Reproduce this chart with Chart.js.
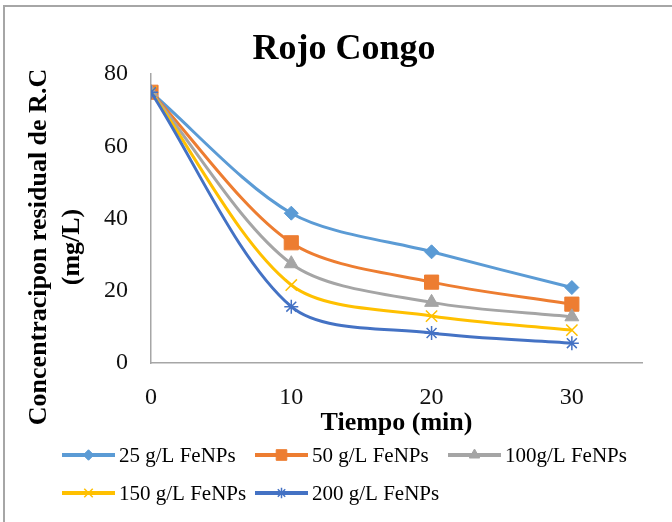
<!DOCTYPE html>
<html>
<head>
<meta charset="utf-8">
<script src="https://cdn.jsdelivr.net/npm/chart.js@4/dist/chart.umd.min.js"></script>
<style>
	html, body { margin: 0; padding: 0; background: #fff; }
	#wrap { width: 672px; height: 522px; }
</style>
</head>
<body>
<div id="wrap"><canvas id="congoChart" width="672" height="522"></canvas></div>
<script>
// Data

const times = [0, 10, 20, 30];
const seriesLabels = ["25 g/L FeNPs", "50 g/L FeNPs", "100g/L FeNPs", "150 g/L FeNPs", "200 g/L FeNPs"];
const conc25 = [75, 41.5, 30.8, 20.9];
const conc50 = [75, 33.3, 22.4, 16.3];
const conc100 = [75, 27.5, 16.8, 12.8];
const conc150 = [75, 21.6, 13.0, 9.1];
const conc200 = [75, 15.6, 8.3, 5.5];
const yTicks = [0, 20, 40, 60, 80];
const xTicks = [0, 10, 20, 30];

const seriesValues = [conc25, conc50, conc100, conc150, conc200];
const colors = ["#5B9BD5", "#ED7D31", "#A5A5A5", "#FFC000", "#4472C4"];
const markers = ["rectRot", "rect", "triangle", "crossRot", "star"];
const markerSizes = [7, 10, 8, 8, 7];

const serif = "'Liberation Serif', 'Times New Roman', serif";

// build datasets
let datasets = [];
for (let i = 0; i < seriesValues.length; i++) {
	let pts = [];
	for (let j = 0; j < times.length; j++) {
		pts.push({ x: times[j], y: seriesValues[i][j] });
	}
	let isStroke = markers[i] === "crossRot" || markers[i] === "star";
	datasets.push({
		label: seriesLabels[i],
		data: pts,
		borderColor: colors[i],
		backgroundColor: colors[i],
		borderWidth: 3,
		tension: 0.3,
		pointStyle: markers[i],
		pointRadius: markerSizes[i],
		pointHoverRadius: markerSizes[i],
		pointBackgroundColor: colors[i],
		pointBorderColor: colors[i],
		pointBorderWidth: isStroke ? 1.5 : 1,
		order: seriesValues.length - i,
	});
}

// background and the frame line at top and left
const framePlugin = {
	id: "frame",
	beforeDraw(chart) {
		const ctx = chart.ctx;
		ctx.save();
		ctx.fillStyle = "#fff";
		ctx.fillRect(0, 0, chart.width, chart.height);
		ctx.strokeStyle = "#a6a6a6";
		ctx.lineWidth = 2;
		ctx.beginPath();
		ctx.moveTo(4, chart.height);
		ctx.lineTo(4, 6);
		ctx.lineTo(chart.width, 6);
		ctx.stroke();
		ctx.restore();
	},
};

// y axis title (two lines) and Excel style legend
const extrasPlugin = {
	id: "extras",
	afterDraw(chart) {
		const ctx = chart.ctx;
		ctx.save();

		// y title
		ctx.fillStyle = "#000";
		ctx.font = "bold 26px " + serif;
		ctx.textAlign = "center";
		ctx.textBaseline = "middle";
		let yLines = ["Concentracipon residual de R.C", "(mg/L)"];
		for (let i = 0; i < yLines.length; i++) {
			ctx.save();
			ctx.translate(39 + i * 33, 247);
			ctx.rotate(-Math.PI / 2);
			ctx.fillText(yLines[i], 0, 0);
			ctx.restore();
		}

		// legend
		ctx.font = "21px " + serif;
		ctx.textAlign = "left";
		for (let i = 0; i < chart.data.datasets.length; i++) {
			let ds = chart.data.datasets[i];
			let col = i % 3;
			let row = Math.floor(i / 3);
			let x0 = 62 + col * 193;
			let y0 = 455 + row * 38;
			ctx.strokeStyle = ds.borderColor;
			ctx.lineWidth = 4;
			ctx.beginPath();
			ctx.moveTo(x0, y0);
			ctx.lineTo(x0 + 53, y0);
			ctx.stroke();
			ctx.fillStyle = ds.backgroundColor;
			ctx.strokeStyle = ds.borderColor;
			ctx.lineWidth = ds.pointBorderWidth;
			Chart.helpers.drawPoint(ctx, {
				pointStyle: ds.pointStyle,
				radius: ds.pointRadius * 0.75,
				borderWidth: ds.pointBorderWidth,
				rotation: 0,
			}, x0 + 26.5, y0);
			ctx.fillStyle = "#000";
			ctx.fillText(ds.label, x0 + 57, y0 + 1);
		}
		ctx.restore();
	},
};

new Chart(document.getElementById("congoChart"), {
	type: "line",
	data: { datasets: datasets },
	options: {
		responsive: false,
		animation: false,
		devicePixelRatio: 1,
		layout: { padding: { left: 46, right: 30, top: 0, bottom: 83 } },
		scales: {
			x: {
				type: "linear",
				min: 0,
				max: 35,
				afterBuildTicks(scale) {
					scale.ticks = xTicks.map((v) => ({ value: v }));
				},
				afterFit(scale) {
					scale.height = 76;
				},
				grid: { display: false, drawTicks: false },
				border: { color: "#a6a6a6", width: 1.5 },
				ticks: { font: { family: serif, size: 24 }, color: "#111", padding: 20, maxRotation: 0 },
				title: {
					display: true,
					text: "Tiempo (min)",
					color: "#000",
					font: { family: serif, size: 26, weight: "bold" },
					padding: { top: 0, bottom: 0 },
				},
			},
			y: {
				min: 0,
				max: 80,
				afterBuildTicks(scale) {
					scale.ticks = yTicks.map((v) => ({ value: v }));
				},
				afterFit(scale) {
					scale.width = 105;
				},
				grid: { display: false, drawTicks: false },
				border: { color: "#a6a6a6", width: 1.5 },
				ticks: { font: { family: serif, size: 24 }, color: "#111", padding: 23 },
			},
		},
		plugins: {
			legend: { display: false },
			tooltip: { enabled: false },
			title: {
				display: true,
				text: "Rojo Congo",
				color: "#000",
				font: { family: serif, size: 36, weight: "bold" },
				padding: { top: 28, bottom: 3 },
			},
		},
	},
	plugins: [framePlugin, extrasPlugin],
});
</script>
</body>
</html>
